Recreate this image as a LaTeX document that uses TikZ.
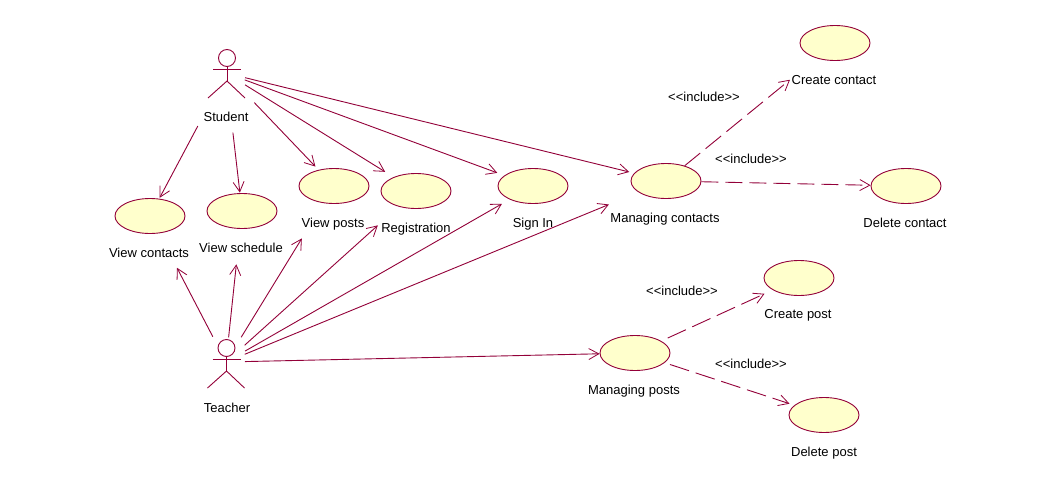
\documentclass[tikz,border=0pt]{standalone}
\usepackage{fontspec}
\setmainfont{Liberation Sans}
\usetikzlibrary{arrows.meta,shapes.geometric}
\definecolor{umlline}{HTML}{930039}
\definecolor{umlfill}{HTML}{FFFFCC}
\tikzset{
  x=1pt,y=-1pt,
  usecase/.style={ellipse,draw=umlline,fill=umlfill,line width=0.9pt,minimum width=70pt,minimum height=35pt,inner sep=0pt},
  lbl/.style={font=\fontsize{13}{15}\selectfont,text=black,inner sep=0pt,anchor=center,text height=9pt,text depth=3pt},
  anchorpt/.style={inner sep=0pt,minimum size=0pt,outer sep=0pt},
  assoc/.style={draw=umlline,line width=0.9pt,-{Straight Barb[length=10pt,width=11pt,line width=0.8pt]}},
  incl/.style={assoc,dash pattern=on 20pt off 7pt},
  actorline/.style={draw=umlline,line width=0.9pt},
  pics/actor/.style={code={
    \draw[actorline] (0,-15) circle (8.5pt);
    \draw[actorline] (0,-6.5) -- (0,8);
    \draw[actorline] (-14,-4) -- (14,-4);
    \draw[actorline] (-19,25) -- (0,8) -- (18,25);
  }}
}
\begin{document}
\begin{tikzpicture}
\useasboundingbox (0,0) rectangle (1055,498);
\fill[white] (0,0) rectangle (1055,498);

% actors
\pic at (227,73) {actor};
\pic at (226.5,363) {actor};
\node[anchorpt] (student) at (226,73) {};
\node[anchorpt] (teacher) at (226,362) {};
\node[lbl] (studentl) at (226,118) {Student};
\node[lbl] (teacherl) at (227,409) {Teacher};

% use cases
\node[usecase] (vc) at (150,216) {};
\node[usecase] (vs) at (242,211) {};
\node[usecase] (vp) at (334,186) {};
\node[usecase] (reg) at (416,191) {};
\node[usecase] (si) at (533,186) {};
\node[usecase] (mc) at (666,181) {};
\node[usecase] (cc) at (835,43) {};
\node[usecase] (dc) at (906,186) {};
\node[usecase] (cp) at (799,278) {};
\node[usecase] (dp) at (824,415) {};
\node[usecase] (mp) at (635,353) {};

% labels
\node[lbl] (vcl) at (149,254) {View contacts};
\node[lbl] (vsl) at (241,249) {View schedule};
\node[lbl] (vpl) at (333,224) {View posts};
\node[lbl] (regl) at (416,229) {Registration};
\node[lbl] (sil) at (533,224) {Sign In};
\node[lbl] (mcl) at (665,219) {Managing contacts};
\node[lbl] (ccl) at (834,81) {Create contact};
\node[lbl] (dcl) at (905,224) {Delete contact};
\node[lbl] (cpl) at (798,315) {Create post};
\node[lbl] (mpl) at (634,391) {Managing posts};
\node[lbl] (dpl) at (824,453) {Delete post};
\node[lbl] (i1) at (704,98) {{<}{<}include{>}{>}};
\node[lbl] (i2) at (751,160) {{<}{<}include{>}{>}};
\node[lbl] (i3) at (682,292) {{<}{<}include{>}{>}};
\node[lbl] (i4) at (751,365) {{<}{<}include{>}{>}};

% student associations
\draw[assoc,shorten <=60pt,shorten >=1pt] (student) -- (vc);
\draw[assoc,shorten <=60pt,shorten >=0.5pt] (student) -- (vs);
\draw[assoc,shorten <=41pt,shorten >=4.5pt] (student) -- (vp);
\draw[assoc,shorten <=22.5pt,shorten >=10pt] (student) -- (reg);
\draw[assoc,shorten <=20pt,shorten >=7.5pt] (student) -- (si);
\draw[assoc,shorten <=19.6pt,shorten >=5pt] (student) -- (mc);

% teacher associations
\draw[assoc,shorten <=28.5pt,shorten >=38.8pt] (teacher) -- (vc);
\draw[assoc,shorten <=24.7pt,shorten >=35.6pt] (teacher) -- (vs);
\draw[assoc,shorten <=29pt,shorten >=41.4pt] (teacher) -- (vp);
\draw[assoc,shorten <=25pt,shorten >=28pt] (teacher) -- (reg);
\draw[assoc,shorten <=22pt,shorten >=8.7pt] (teacher) -- (si);
\draw[assoc,shorten <=20.2pt,shorten >=32pt] (teacher) -- (mc);
\draw[assoc,shorten <=19pt] (teacher) -- (mp);

% include dependencies
\draw[incl,shorten >=34pt] (mc) -- (cc);
\draw[incl,dash pattern=on 17pt off 7pt] (mc) -- (dc);
\draw[incl,shorten <=7pt,shorten >=9pt] (mp) -- (cp);
\draw[incl,shorten <=5.5pt,shorten >=5pt] (mp) -- (dp);
\end{tikzpicture}
\end{document}
